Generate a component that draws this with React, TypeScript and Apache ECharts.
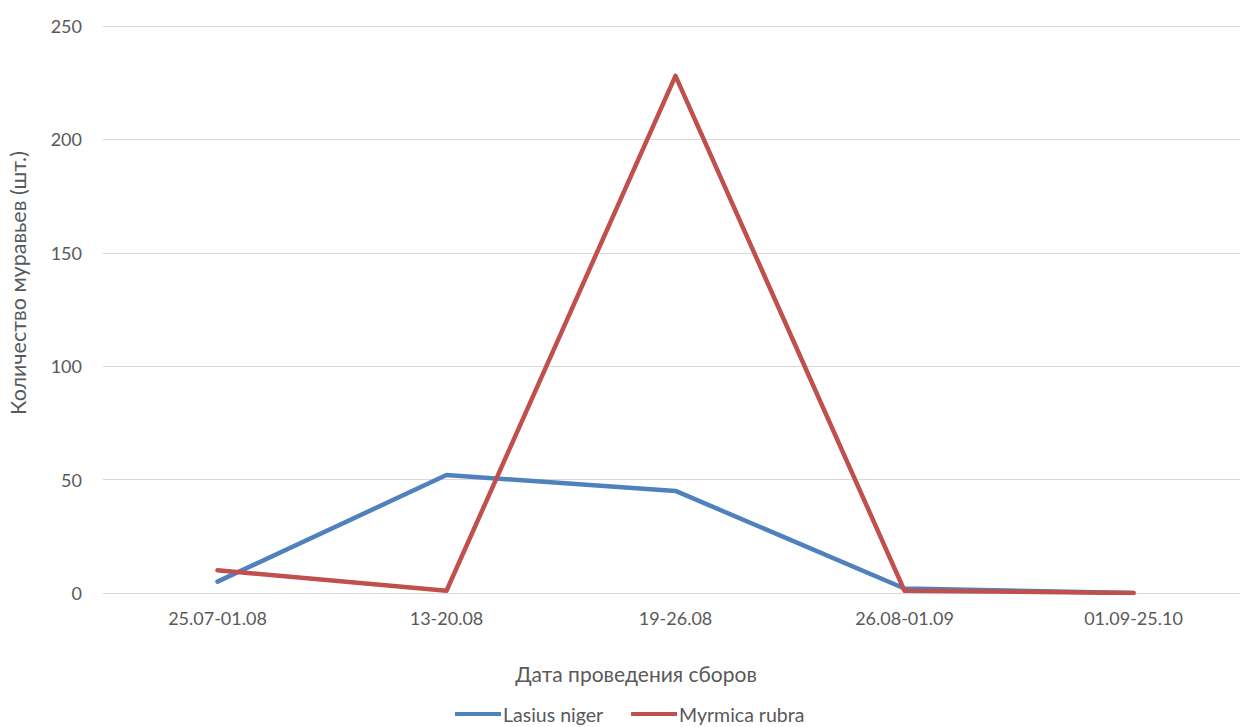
import React, { useEffect, useRef } from "react";
import * as echarts from "echarts";

const categories = ["25.07-01.08", "13-20.08", "19-26.08", "26.08-01.09", "01.09-25.10"];
const lasiusNiger = [5, 52, 45, 2, 0];
const myrmicaRubra = [10, 1, 228, 1, 0];
const yTicks = { min: 0, max: 250, interval: 50 };

const FONT = "Lato, 'Noto Sans', sans-serif";
const TEXT = "#595959";

export default function App() {
  const ref = useRef<HTMLDivElement>(null);
  useEffect(() => {
    const chart = echarts.init(ref.current!, undefined, { renderer: "svg" });
    chart.setOption({
      animation: false,
      backgroundColor: "#ffffff",
      grid: { left: 103, right: 0, top: 26, bottom: 134, containLabel: false },
      xAxis: {
        type: "category",
        data: categories,
        boundaryGap: true,
        axisLine: { show: true, lineStyle: { color: "#D9D9D9", width: 1 } },
        axisTick: { show: false },
        axisLabel: { color: TEXT, fontFamily: FONT, fontSize: 18, margin: 16 },
      },
      yAxis: {
        type: "value",
        min: yTicks.min,
        max: yTicks.max,
        interval: yTicks.interval,
        axisLine: { show: false },
        axisTick: { show: false },
        splitLine: { lineStyle: { color: "#D9D9D9", width: 1 } },
        axisLabel: { color: TEXT, fontFamily: FONT, fontSize: 18, margin: 21 },
      },
      legend: {
        left: 455,
        top: 704,
        padding: 0,
        itemWidth: 46,
        itemHeight: 4,
        itemGap: 28,
        icon: "rect",
        textStyle: { color: TEXT, fontFamily: FONT, fontSize: 19.5, padding: [0, 0, 0, -3] },
        data: ["Lasius niger", "Myrmica rubra"],
      },
      graphic: [
        {
          type: "text",
          x: 636,
          y: 673,
          style: {
            text: "Дата проведения сборов",
            fill: TEXT,
            font: `21px ${FONT}`,
            align: "center",
            verticalAlign: "middle",
          },
        },
        {
          type: "text",
          x: 18,
          y: 283,
          rotation: Math.PI / 2,
          style: {
            text: "Количество муравьев (шт.)",
            fill: TEXT,
            font: `21.5px ${FONT}`,
            align: "center",
            verticalAlign: "middle",
          },
        },
      ],
      series: [
        {
          name: "Lasius niger",
          type: "line",
          data: lasiusNiger,
          symbol: "none",
          itemStyle: { color: "#4F81BD" },
          lineStyle: { color: "#4F81BD", width: 4.5, cap: "round", join: "round" },
        },
        {
          name: "Myrmica rubra",
          type: "line",
          data: myrmicaRubra,
          symbol: "none",
          itemStyle: { color: "#C0504D" },
          lineStyle: { color: "#C0504D", width: 4.5, cap: "round", join: "round" },
        },
      ],
    });
    return () => chart.dispose();
  }, []);
  return (
    <div
      ref={ref}
      style={{ position: "fixed", left: 0, top: 0, width: 1248, height: 727 }}
    />
  );
}
